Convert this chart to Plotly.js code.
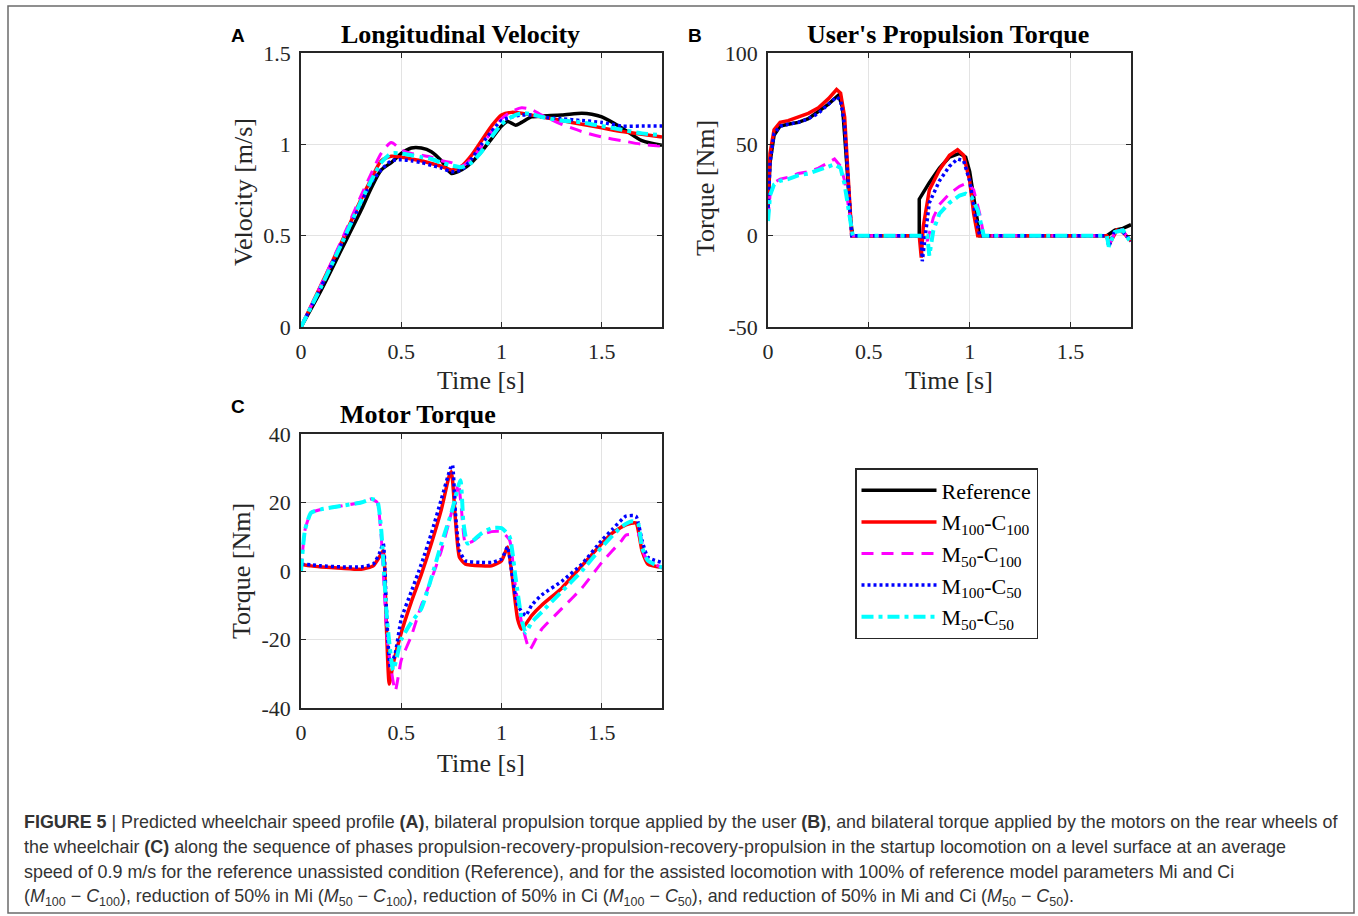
<!DOCTYPE html>
<html>
<head>
<meta charset="utf-8">
<script src="https://cdn.plot.ly/plotly-3.0.1.min.js"></script>
<style>html,body{margin:0;padding:0;background:#fff;}#chart{width:1358px;height:916px;}</style>
</head>
<body>
<div id="chart"></div>
<script>
// ---------------- DATA ----------------
// Panel A: longitudinal velocity [m/s]
var velTimeRef = [0,0.1,0.2,0.3,0.35,0.4,0.45,0.5,0.55,0.6,0.65,0.7,0.75,0.8,0.85,0.9,0.95,1.0,1.03,1.07,1.1,1.15,1.2,1.3,1.4,1.45,1.5,1.6,1.7,1.8];
var velRef     = [0,0.2,0.42,0.64,0.76,0.86,0.9,0.95,0.98,0.98,0.96,0.91,0.84,0.86,0.9,0.96,1.03,1.1,1.125,1.105,1.12,1.15,1.155,1.16,1.17,1.165,1.15,1.09,1.02,0.995];
var velTime = [0,0.1,0.2,0.3,0.35,0.4,0.45,0.5,0.55,0.6,0.65,0.7,0.75,0.8,0.85,0.9,0.95,1.0,1.05,1.1,1.15,1.2,1.3,1.4,1.5,1.6,1.7,1.8];
var velM100C100 = [0,0.23,0.46,0.7,0.81,0.91,0.935,0.93,0.92,0.91,0.895,0.88,0.86,0.88,0.94,1.02,1.1,1.16,1.175,1.17,1.16,1.15,1.13,1.11,1.09,1.07,1.055,1.04];
var velM50C100  = [0,0.23,0.47,0.72,0.84,0.95,1.01,0.97,0.95,0.94,0.93,0.91,0.9,0.88,0.92,0.99,1.07,1.14,1.18,1.2,1.19,1.16,1.11,1.07,1.04,1.02,1.0,0.99];
var velM100C50  = [0,0.22,0.45,0.68,0.79,0.86,0.91,0.915,0.91,0.9,0.885,0.87,0.85,0.86,0.92,1.0,1.07,1.13,1.15,1.16,1.16,1.15,1.14,1.13,1.12,1.1,1.1,1.1];
var velM50C50   = [0,0.22,0.45,0.69,0.8,0.9,0.95,0.95,0.94,0.93,0.92,0.9,0.885,0.875,0.9,0.96,1.04,1.11,1.15,1.17,1.165,1.15,1.13,1.12,1.1,1.08,1.06,1.05];

// Panel B: user's propulsion torque [Nm]
var userTimeRef = [0,0.01,0.03,0.06,0.1,0.15,0.2,0.25,0.3,0.35,0.37,0.39,0.41,0.42,0.75,0.75,0.8,0.85,0.9,0.95,0.98,1.0,1.03,1.05,1.68,1.72,1.76,1.8];
var userRef     = [15,40,55,60,61,62,64,68,72,77,70,40,8,0,0,20,29,37,43,45,43,35,12,0,0,3,4,6];
var userTimeM100C100 = [0,0.01,0.03,0.06,0.1,0.15,0.2,0.25,0.3,0.34,0.36,0.38,0.4,0.415,0.75,0.76,0.77,0.8,0.85,0.9,0.94,0.97,1.0,1.02,1.04,1.68,1.7,1.73,1.76,1.8];
var userM100C100     = [16,45,58,62,63,65,67,70,75,80,78,65,25,0,0,-12,5,25,36,44,47,44,30,12,0,0,-3,3,2,-3];
var userTimeM50C100  = [0,0.01,0.03,0.06,0.1,0.15,0.2,0.25,0.3,0.33,0.36,0.38,0.4,0.42,0.78,0.79,0.82,0.85,0.9,0.95,0.99,1.02,1.05,1.07,1.68,1.7,1.73,1.76,1.8];
var userM50C100      = [9,22,29,31,32,34,35,37,40,42,38,30,15,0,0,-3,10,17,23,27,29,25,12,0,0,-3,4,3,-4];
var userTimeM100C50  = [0,0.01,0.03,0.06,0.1,0.15,0.2,0.25,0.3,0.34,0.36,0.38,0.4,0.415,0.76,0.765,0.78,0.8,0.85,0.9,0.94,0.97,1.0,1.03,1.05,1.68,1.69,1.72,1.76,1.8];
var userM100C50      = [12,40,56,60,61,62,64,67,72,76,74,60,25,0,0,-14,0,18,30,38,42,41,30,10,0,0,-6,3,2,-3];
var userTimeM50C50   = [0,0.01,0.03,0.06,0.1,0.15,0.2,0.25,0.3,0.33,0.36,0.38,0.4,0.42,0.79,0.8,0.82,0.85,0.9,0.95,0.98,1.01,1.04,1.07,1.68,1.69,1.72,1.76,1.8];
var userM50C50       = [8,22,28,30,31,33,34,36,38,39,37,28,14,0,0,-11,3,12,18,22,23,21,14,0,0,-6,2,3,-4];

// Panel C: motor torque [Nm]
var motorTimeM100C100 = [0,0.05,0.1,0.2,0.3,0.36,0.39,0.41,0.425,0.44,0.46,0.5,0.55,0.6,0.65,0.7,0.74,0.75,0.77,0.79,0.82,0.9,0.95,1.0,1.03,1.05,1.08,1.1,1.15,1.2,1.3,1.4,1.5,1.55,1.62,1.67,1.7,1.73,1.8];
var motorM100C100     = [2,1.5,1.2,0.8,0.5,1.5,4,6,-15,-33,-27,-18,-9,-1,8,18,28,29,15,4,2,1.5,1.5,3,7,0,-14,-17,-13,-10,-5,1.5,8,11,13.5,14,6,2,1];
var motorTimeM50C100  = [0,0.02,0.05,0.1,0.2,0.3,0.35,0.38,0.4,0.43,0.47,0.5,0.55,0.6,0.65,0.7,0.75,0.785,0.8,0.82,0.85,0.9,0.95,1.0,1.04,1.07,1.1,1.14,1.17,1.2,1.3,1.4,1.5,1.6,1.62,1.69,1.71,1.73,1.8];
var motorM50C100      = [0,12,17,18,19,20,21,20,10,-20,-35,-26,-19,-10,-2.5,6,17,25.5,18,8,8.5,10.5,11.5,11.5,9,-5,-15,-23,-20,-17,-11,-5,2.5,9,10.5,10.5,5,3,1];
var motorTimeM100C50  = [0,0.05,0.1,0.2,0.3,0.36,0.39,0.41,0.425,0.445,0.47,0.5,0.55,0.6,0.65,0.7,0.745,0.755,0.77,0.79,0.82,0.9,0.95,1.0,1.03,1.05,1.08,1.12,1.15,1.2,1.3,1.4,1.5,1.55,1.62,1.67,1.7,1.73,1.8];
var motorM100C50      = [2,1.8,1.5,1.2,1.2,2,5,8,-10,-28,-24,-14,-6,2,11,21,30,31,17,6,3,2.5,2.5,3.5,7,0,-10,-13,-10,-7,-3,2,9,12,16,16,9,4,2.5];
var motorTimeM50C50   = [0,0.02,0.05,0.1,0.2,0.3,0.35,0.38,0.4,0.43,0.46,0.5,0.55,0.6,0.65,0.7,0.75,0.795,0.81,0.83,0.85,0.9,0.95,1.0,1.04,1.07,1.1,1.12,1.15,1.2,1.3,1.4,1.5,1.6,1.65,1.68,1.7,1.73,1.8];
var motorM50C50       = [0,12,17,18,19,20,21,20.5,12,-15,-29,-20,-15,-11,-2,8,17,26.5,14,8,8.5,11,12.5,12.5,10,-2,-14,-18,-15,-12,-6,0,7,13,14.5,14,7,3,1];

// Labels
var seriesNames = ['Reference','M<sub>100</sub>-C<sub>100</sub>','M<sub>50</sub>-C<sub>100</sub>','M<sub>100</sub>-C<sub>50</sub>','M<sub>50</sub>-C<sub>50</sub>'];
var panelTitles = ['Longitudinal Velocity',"User's Propulsion Torque",'Motor Torque'];
var panelLetters = ['A','B','C'];
var xTickVals = [0,0.5,1,1.5];
var xTickText = ['0','0.5','1','1.5'];
var velTickVals = [0,0.5,1,1.5];
var velTickText = ['0','0.5','1','1.5'];
var userTickVals = [-50,0,50,100];
var userTickText = ['-50','0','50','100'];
var motorTickVals = [-40,-20,0,20,40];
var motorTickText = ['-40','-20','0','20','40'];
var captionLines = [
  '<b>FIGURE 5</b> | Predicted wheelchair speed profile <b>(A)</b>, bilateral propulsion torque applied by the user <b>(B)</b>, and bilateral torque applied by the motors on the rear wheels of',
  'the wheelchair <b>(C)</b> along the sequence of phases propulsion-recovery-propulsion-recovery-propulsion in the startup locomotion on a level surface at an average',
  'speed of 0.9 m/s for the reference unassisted condition (Reference), and for the assisted locomotion with 100% of reference model parameters Mi and Ci',
  '(<i>M</i><sub>100</sub> − <i>C</i><sub>100</sub>), reduction of 50% in Mi (<i>M</i><sub>50</sub> − <i>C</i><sub>100</sub>), reduction of 50% in Ci (<i>M</i><sub>100</sub> − <i>C</i><sub>50</sub>), and reduction of 50% in Mi and Ci (<i>M</i><sub>50</sub> − <i>C</i><sub>50</sub>).'
];

// ---------------- STYLE ----------------
var W = 1358, H = 916;
function px(x){ return x / W; }
function py(y){ return 1 - y / H; }
var serif = 'Liberation Serif, Times New Roman, serif';
var sans = 'Liberation Sans, Arial, sans-serif';
var styles = [
  {color:'#000000', width:3.5, dash:'solid'},
  {color:'#ff0000', width:3.5, dash:'solid'},
  {color:'#ff00ff', width:3, dash:'12px,8px'},
  {color:'#0000ff', width:3.5, dash:'3px,3px'},
  {color:'#00ffff', width:4, dash:'12px,5px,4px,5px'}
];

function tr(x, y, i, xa, ya, showLegend, smooth){
  var line = {color:styles[i].color, width:styles[i].width, dash:styles[i].dash};
  if (smooth > 0) { line.shape = 'spline'; line.smoothing = smooth; } else { line.shape = 'linear'; }
  return {x:x, y:y, type:'scatter', mode:'lines', name:seriesNames[i],
    xaxis:xa, yaxis:ya, showlegend:showLegend, legendgroup:'g'+i,
    line:line, hoverinfo:'x+y'};
}

var data = [
  tr(velTimeRef, velRef, 0, 'x', 'y', true, 0.7),
  tr(velTime, velM100C100, 1, 'x', 'y', true, 0.7),
  tr(velTime, velM50C100, 2, 'x', 'y', true, 0.7),
  tr(velTime, velM100C50, 3, 'x', 'y', true, 0.7),
  tr(velTime, velM50C50, 4, 'x', 'y', true, 0.7),
  tr(userTimeRef, userRef, 0, 'x2', 'y2', false, 0),
  tr(userTimeM100C100, userM100C100, 1, 'x2', 'y2', false, 0),
  tr(userTimeM50C100, userM50C100, 2, 'x2', 'y2', false, 0),
  tr(userTimeM100C50, userM100C50, 3, 'x2', 'y2', false, 0),
  tr(userTimeM50C50, userM50C50, 4, 'x2', 'y2', false, 0),
  tr(motorTimeM100C100, motorM100C100, 1, 'x3', 'y3', false, 0.5),
  tr(motorTimeM50C100, motorM50C100, 2, 'x3', 'y3', false, 0.5),
  tr(motorTimeM100C50, motorM100C50, 3, 'x3', 'y3', false, 0.5),
  tr(motorTimeM50C50, motorM50C50, 4, 'x3', 'y3', false, 0.5)
];

var axCommon = {
  showline:true, linecolor:'#262626', linewidth:1.5, mirror:'ticks',
  ticks:'inside', ticklen:5, tickwidth:1.2, tickcolor:'#262626',
  showgrid:true, gridcolor:'#e3e3e3', gridwidth:1,
  zeroline:false, fixedrange:true,
  tickfont:{family:serif, size:22, color:'#262626'}
};
function ax(extra){ return Object.assign({}, axCommon, extra); }

var xA = [301, 662], xB = [768, 1131];
var yAB = [53, 327], yC = [434, 708];

var layout = {
  width:W, height:H,
  margin:{l:0, r:0, t:0, b:0},
  paper_bgcolor:'#ffffff', plot_bgcolor:'#ffffff',
  showlegend:true,
  xaxis: ax({domain:[px(xA[0]), px(xA[1])], range:[0,1.8], anchor:'y', tickvals:xTickVals, ticktext:xTickText, ticklabelstandoff:4}),
  yaxis: ax({domain:[py(yAB[1]), py(yAB[0])], range:[0,1.5], anchor:'x', tickvals:velTickVals, ticktext:velTickText, ticklabelstandoff:4}),
  xaxis2: ax({domain:[px(xB[0]), px(xB[1])], range:[0,1.8], anchor:'y2', tickvals:xTickVals, ticktext:xTickText, ticklabelstandoff:4}),
  yaxis2: ax({domain:[py(yAB[1]), py(yAB[0])], range:[-50,100], anchor:'x2', tickvals:userTickVals, ticktext:userTickText, ticklabelstandoff:4}),
  xaxis3: ax({domain:[px(xA[0]), px(xA[1])], range:[0,1.8], anchor:'y3', tickvals:xTickVals, ticktext:xTickText, ticklabelstandoff:4}),
  yaxis3: ax({domain:[py(yC[1]), py(yC[0])], range:[-40,40], anchor:'x3', tickvals:motorTickVals, ticktext:motorTickText, ticklabelstandoff:4}),
  legend:{
    x:px(855), y:py(468), xanchor:'left', yanchor:'top',
    bgcolor:'#ffffff', bordercolor:'#262626', borderwidth:1.5,
    font:{family:serif, size:22, color:'#000000'},
    itemwidth:75, tracegroupgap:0
  },
  shapes:[
    {type:'rect', xref:'paper', yref:'paper', x0:px(8), x1:px(1354), y0:py(913), y1:py(6),
     line:{color:'#6b6b6b', width:1.5}, fillcolor:'rgba(0,0,0,0)', layer:'below'}
  ],
  annotations:[]
};

var ann = layout.annotations;
function addText(text, x, y, opts){
  ann.push(Object.assign({text:text, xref:'paper', yref:'paper', x:px(x), y:py(y),
    showarrow:false, xanchor:'center', yanchor:'middle'}, opts));
}
// panel titles
addText('<b>'+panelTitles[0]+'</b>', 460, 34, {font:{family:serif, size:26, color:'#000'}});
addText('<b>'+panelTitles[1]+'</b>', 948, 34, {font:{family:serif, size:26, color:'#000'}});
addText('<b>'+panelTitles[2]+'</b>', 418, 414, {font:{family:serif, size:26, color:'#000'}});
// panel letters
addText('<b>'+panelLetters[0]+'</b>', 238, 35, {font:{family:sans, size:19, color:'#000'}});
addText('<b>'+panelLetters[1]+'</b>', 695, 35, {font:{family:sans, size:19, color:'#000'}});
addText('<b>'+panelLetters[2]+'</b>', 238, 407, {font:{family:sans, size:19, color:'#000'}});
// axis titles
var axTitleFont = {family:serif, size:26, color:'#262626'};
addText('Time [s]', 481, 381, {font:axTitleFont});
addText('Time [s]', 949, 381, {font:axTitleFont});
addText('Time [s]', 481, 763, {font:axTitleFont});
addText('Velocity [m/s]', 243, 192, {font:axTitleFont, textangle:-90});
addText('Torque [Nm]', 705, 188, {font:axTitleFont, textangle:-90});
addText('Torque [Nm]', 241, 571, {font:axTitleFont, textangle:-90});
// caption
var capY = [822, 847, 872, 897];
for (var i = 0; i < captionLines.length; i++) {
  addText(captionLines[i], 22, capY[i], {xanchor:'left', font:{family:sans, size:17.9, color:'#333333'}});
}

Plotly.newPlot('chart', data, layout, {displayModeBar:false});
</script>
</body>
</html>
